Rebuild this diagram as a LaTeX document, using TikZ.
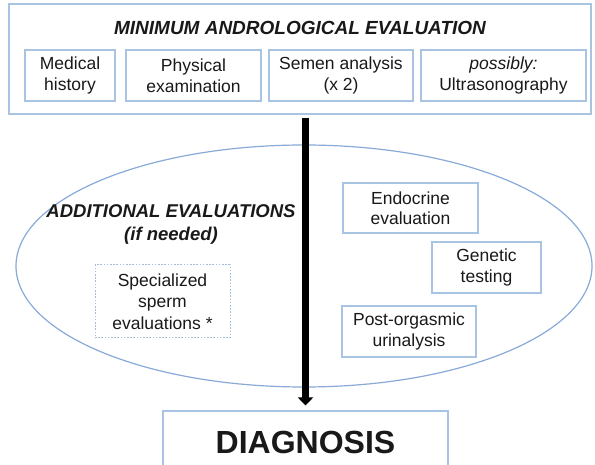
\documentclass[tikz,border=0pt]{standalone}
\usepackage{fontspec}
\setmainfont{Liberation Sans}
\usetikzlibrary{arrows.meta,shapes.geometric}
\definecolor{boxline}{RGB}{168,196,226}
\definecolor{ovalline}{RGB}{135,170,215}
\definecolor{ink}{RGB}{25,25,25}
\begin{document}
\begin{tikzpicture}[x=1pt,y=-1pt,
  box/.style={draw=boxline,line width=1.1pt,rectangle,inner sep=0pt,
    align=center,text=ink,font=\fontsize{17.5}{20.5}\selectfont},
  dotbox/.style={box,draw=boxline!90!gray,dash pattern=on 1.6pt off 1.6pt,line width=1pt},
  heading/.style={text=ink,align=center,inner sep=0pt},
  flow/.style={line width=7pt,draw=black,-{Triangle[width=15pt,length=8pt]}}]
\useasboundingbox (0,0) rectangle (595,465);
\clip (0,0) rectangle (595,465);

% minimum evaluation panel
\node[box,minimum width=582pt,minimum height=110pt] (top) at (300,59) {};
\node[heading,font=\fontsize{19}{22}\selectfont\bfseries\itshape] (title) at (300,28)
  {MINIMUM ANDROLOGICAL EVALUATION};
\node[box,minimum width=90pt,minimum height=51pt] (hist) at (70,75.5) {Medical\\history};
\node[box,minimum width=135pt,minimum height=51pt] (phys) at (193.5,75.5) {Physical\\examination};
\node[box,minimum width=144pt,minimum height=51pt] (semen) at (341,75.5) {Semen analysis\\(x 2)};
\node[box,minimum width=165pt,minimum height=51pt] (us) at (503.5,75.5) {\itshape possibly:\\Ultrasonography};

% additional evaluations
\node[ellipse,draw=ovalline,line width=1.2pt,minimum width=576pt,minimum height=242pt,inner sep=0pt]
  (oval) at (304,266) {};
\node[heading,font=\fontsize{18.5}{23}\selectfont\bfseries\itshape] (addl) at (171,224.5)
  {ADDITIONAL EVALUATIONS\\(if needed)};
\node[dotbox,minimum width=135pt,minimum height=73pt,font=\fontsize{17.5}{21.5}\selectfont]
  (sperm) at (162.5,301.5) {Specialized\\sperm\\evaluations *};
\node[box,minimum width=135pt,minimum height=50pt] (endo) at (410.5,208) {Endocrine\\evaluation};
\node[box,minimum width=109pt,minimum height=51pt] (gen) at (486.5,267.5) {Genetic\\testing};
\node[box,minimum width=134pt,minimum height=51pt] (post) at (409,331.5) {Post-orgasmic\\urinalysis};

% diagnosis
\node[box,fill=white,minimum width=285pt,minimum height=62pt,
  font=\fontsize{32}{36}\selectfont\bfseries] (diag) at (305.5,442) {DIAGNOSIS};

\draw[flow,shorten <=3pt,shorten >=5pt] (top.south -| diag.north) -- (diag.north);
\end{tikzpicture}
\end{document}
